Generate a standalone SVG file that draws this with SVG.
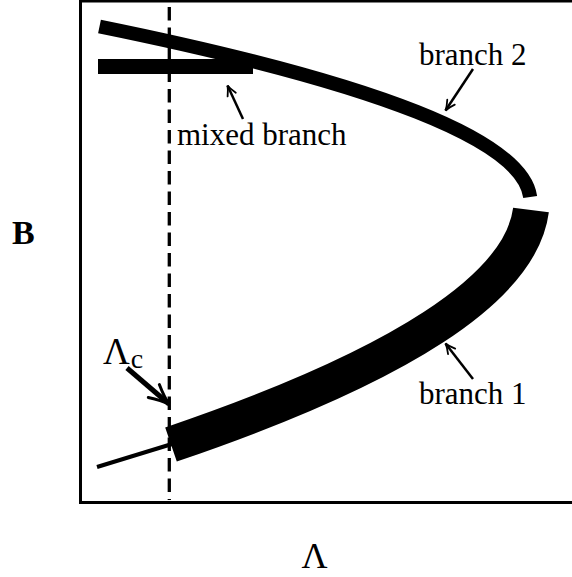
<svg xmlns="http://www.w3.org/2000/svg" width="572" height="577" viewBox="0 0 572 577">
<defs>
<style>
.lbl{font-family:"Liberation Serif","Times New Roman",serif;fill:#000;}
.thin{stroke:#000;stroke-width:2.5;fill:none;}
.tip{stroke:#000;stroke-width:1.8;fill:none;stroke-linecap:round;}
</style>
<marker id="arr" markerUnits="userSpaceOnUse" orient="auto" refX="0" refY="0" markerWidth="30" markerHeight="30" viewBox="-15 -15 30 30" overflow="visible">
<path class="tip" d="M-10,-4.5 Q-4,-1 0,0 Q-4,1 -10,4.5"/>
</marker>
<marker id="arrBig" markerUnits="userSpaceOnUse" orient="auto" refX="0" refY="0" markerWidth="50" markerHeight="50" viewBox="-25 -25 50 50" overflow="visible">
<path d="M-20,-8.5 Q-8,-2 0,0 Q-8,2 -20,8.5" stroke="#000" stroke-width="3" fill="none" stroke-linecap="round"/>
</marker>
</defs>
<rect x="80.5" y="1" width="500" height="501.5" fill="none" stroke="#000" stroke-width="3"/>
<g id="critical-line">
<line x1="169.3" y1="7" x2="169.3" y2="500" stroke="#000" stroke-width="3.3" stroke-dasharray="13.5 7"/>
</g>
<g id="branch2">
<path d="M99.5,26.5 Q518.3,111.75 530.2,197" fill="none" stroke="#000" stroke-width="14"/>
</g>
<g id="mixed-branch">
<rect x="98" y="59" width="155" height="15" fill="#000"/>
</g>
<g id="branch1">
<line x1="97" y1="467" x2="172" y2="444" stroke="#000" stroke-width="4"/>
<path d="M171,444.5 Q516,327 531,210" fill="none" stroke="#000" stroke-width="36"/>
</g>
<g id="connectors">
<line class="thin" x1="473" y1="69" x2="445.5" y2="110.5" marker-end="url(#arr)"/>
<line class="thin" x1="243" y1="119" x2="227.5" y2="85.5" marker-end="url(#arr)"/>
<line class="thin" x1="473" y1="379" x2="445.5" y2="343.5" marker-end="url(#arr)"/>
<line x1="127" y1="368" x2="169" y2="404" stroke="#000" stroke-width="5" marker-end="url(#arrBig)"/>
</g>
<g id="labels">
<text class="lbl" x="419" y="65" font-size="31">branch 2</text>
<text class="lbl" x="177" y="145" font-size="31">mixed branch</text>
<text class="lbl" x="419" y="404" font-size="31">branch 1</text>
<text class="lbl" x="103" y="364" font-size="37">Λ<tspan font-size="28" dy="4" dx="1">c</tspan></text>
<text class="lbl" x="12" y="244" font-size="34" font-weight="bold">B</text>
<text class="lbl" x="314.5" y="568" font-size="36" text-anchor="middle">Λ</text>
</g>
</svg>
